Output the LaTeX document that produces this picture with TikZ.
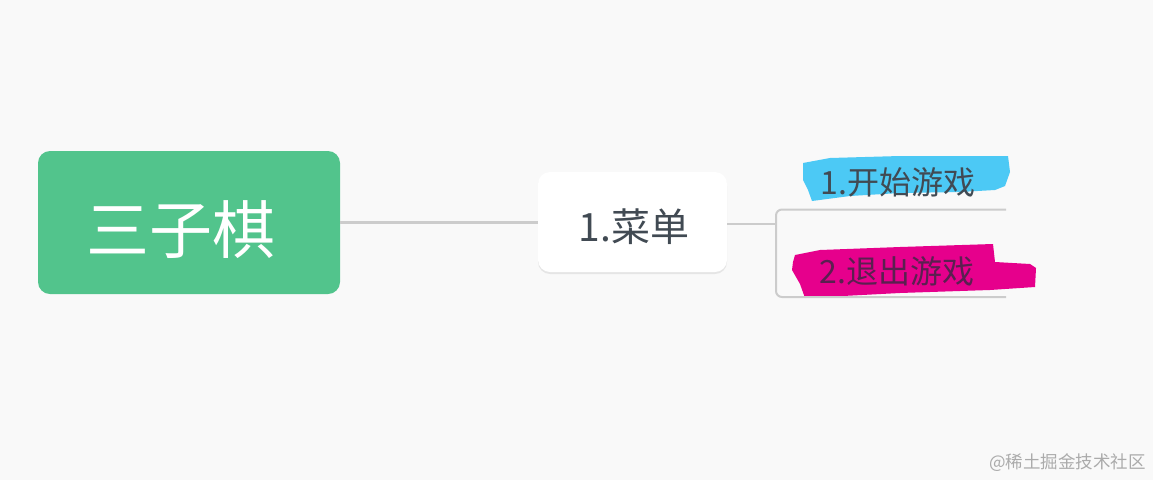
\documentclass[tikz,border=0pt]{standalone}
\usepackage{fontspec}
\setmainfont{Noto Sans CJK SC}
\usetikzlibrary{shadows}
\definecolor{bg}{HTML}{F9F9F9}
\definecolor{rootgreen}{HTML}{52C48C}
\definecolor{txtgray}{HTML}{414A53}
\definecolor{linegray}{HTML}{CCCCCC}
\definecolor{hlcyan}{HTML}{4CC9F5}
\definecolor{hlmag}{HTML}{E6008C}
\definecolor{plum}{HTML}{5A2050}
\definecolor{wmgray}{HTML}{ABABAB}
\tikzset{
  rootbox/.style={fill=rootgreen, rounded corners=12pt, minimum width=302pt, minimum height=143pt, inner sep=0pt},
  roottext/.style={inner sep=0pt, text=white, font=\fontsize{63}{66}\selectfont},
  menubox/.style={fill=white, rounded corners=12pt, minimum width=189pt, minimum height=100pt, inner sep=0pt,
    drop shadow={shadow xshift=0pt, shadow yshift=-2pt, opacity=0.08, fill=black}},
  menutext/.style={inner sep=0pt, text=txtgray, font=\fontsize{39}{42}\selectfont},
  childtext/.style={inner sep=0pt, font=\fontsize{32}{34}\selectfont},
  conn/.style={draw=linegray, line width=3pt},
  thin/.style={draw=linegray, line width=2pt},
}
\begin{document}
\begin{tikzpicture}[x=1pt, y=-1pt]
\useasboundingbox (0,0) rectangle (1153,480);
\fill[bg] (0,0) rectangle (1153,480);
% highlighter strokes
\fill[hlcyan] (803,163) -- (830,158) -- (900,156) -- (1008,156) -- (1010,172) -- (1005,186) -- (995,190) -- (960,192) -- (900,193) -- (850,196) -- (812,201) -- (808,190) -- (803,180) -- cycle;
\fill[hlmag] (795,255) -- (820,250) -- (900,247) -- (993,244) -- (995,262) -- (1030,264) -- (1036,268) -- (1035,287) -- (990,290) -- (900,293) -- (805,298) -- (800,284) -- (792,270) -- (793,262) -- cycle;
% nodes
\node[rootbox] (root) at (189,222.5) {};
\node[roottext] (roott) at (181,230) {三子棋};
\node[menubox] (menu) at (632.5,222) {};
\node[menutext] (menut) at (634,227) {1.菜单};
\node[childtext, text=txtgray] (c1) at (898,182) {1.开始游戏};
\node[childtext, text=plum] (c2) at (897,271) {2.退出游戏};
\node[font=\fontsize{17.5}{18}\selectfont, text=wmgray, anchor=east, inner sep=0pt] (wm) at (1146,463) {@稀土掘金技术社区};
% connectors
\coordinate (fork) at (776,224);
\coordinate (c1l) at (1006,209.5);
\coordinate (c2l) at (1006,297);
\draw[conn] (root.east |- 0,222) -- (menu.west |- 0,222);
\draw[thin] (menu.east |- fork) -- (fork);
\draw[thin, rounded corners=6pt] (c1l) -- (776,209.5) -- (776,297) -- (c2l);
\end{tikzpicture}
\end{document}
